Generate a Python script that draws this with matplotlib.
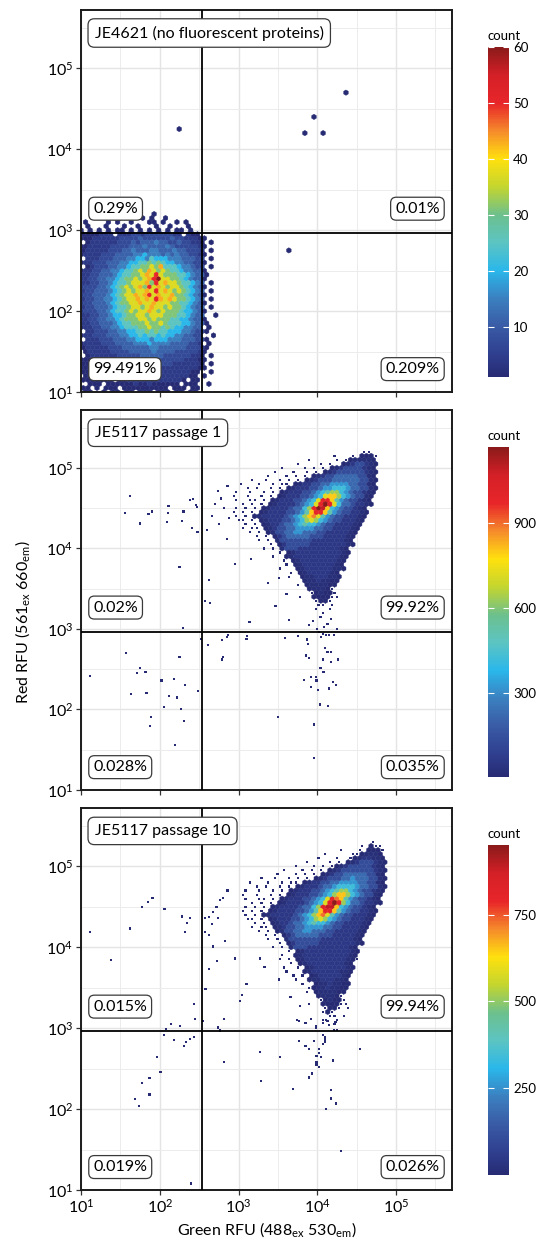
import numpy as np
import matplotlib.pyplot as plt
from matplotlib.colors import LinearSegmentedColormap
from matplotlib.ticker import FixedLocator, LogFormatterMathtext, NullFormatter

plt.rcParams['font.family'] = ['Lato', 'DejaVu Sans']
plt.rcParams['mathtext.fontset'] = 'custom'
plt.rcParams['mathtext.rm'] = 'Lato'
plt.rcParams['mathtext.it'] = 'Lato:italic'
plt.rcParams['mathtext.bf'] = 'Lato:bold'

titles = ['JE4621 (no fluorescent proteins)', 'JE5117 passage 1', 'JE5117 passage 10']
# upper-left, upper-right, lower-left, lower-right
quadrant_pct = [['0.29%', '0.01%', '99.491%', '0.209%'],
                ['0.02%', '99.92%', '0.028%', '0.035%'],
                ['0.015%', '99.94%', '0.019%', '0.026%']]
gate_green = 343
gate_red = 927
count_max = [60, 1170, 950]
cbar_ticks = [[10, 20, 30, 40, 50, 60], [300, 600, 900], [250, 500, 750]]

# hex lattice of the density maps, in log10 units
HEX_W = 0.058
HEX_H = 0.1
NX, NY = 84, 48

# one character per hex, '.' = empty; code -> count
codes = '123456789abcdefg'
counts_1 = [1, 4, 7, 11, 15, 20, 25, 31, 37, 43, 50, 60]
counts_2 = [1, 4, 20, 55, 130, 220, 320, 420, 520, 630, 720, 800, 880, 990, 1090, 1170]
counts_3 = [1, 4, 16, 45, 105, 180, 260, 340, 420, 510, 585, 655, 730, 810, 890, 950]

# JE4621, hex rows 44 (top) .. 0, first column = hex column 0
density_1 = [
    "..... ..... ..... .1... ..... .....",
    "..... ...1. ...1. 1..1. ..... .....",
    ".1... .1.1. .1... 11.1. .1.1. .....",
    ".1... 1...1 ..1.. .1..1 ...1. .....",
    "1.1.1 .1.11 .1.1. 1.1.1 .11.1 .....",
    "11112 22.22 23323 33333 22.21 1....",
    "11122 22223 33343 33333 43322 211..",
    ".1222 22233 34344 45443 34332 21.1.",
    "11222 22333 34445 44445 43333 321..",
    "12222 23334 45444 55444 54433 32.1.",
    "12222 33344 44556 55545 45443 321..",
    ".2223 33444 55665 76665 55444 33.1.",
    "12233 34445 56677 87876 65544 331..",
    ".1233 34455 67788 98a77 76554 33.1.",
    "12233 44556 77898 a9898 77655 441..",
    "22334 44567 7889a 9b988 87765 441..",
    "22334 45567 88989 abc99 88765 441..",
    "22334 45677 8999a 8b9a9 98776 54.1.",
    "23334 45678 989a8 b9a98 99876 541..",
    "23344 45678 9899a 9b9a9 89876 54.1.",
    "23344 45678 99a9a b9a99 a8876 541..",
    "23344 55678 99a9a 9ba9a 98876 54.1.",
    "23344 45678 899a9 9a999 88776 541..",
    "23344 45677 89989 a9989 88765 44.1.",
    "23334 45677 89899 a9898 88766 541..",
    "22334 45667 88998 99988 87765 44..1",
    "22334 45567 88899 89888 77665 441..",
    "22334 44567 78889 88987 77665 441..",
    "12233 44556 77788 98878 76655 44.1.",
    ".2233 34455 66778 78776 66554 331..",
    "12233 34445 56676 77676 65544 33..1",
    ".2223 33444 55666 56665 55444 331..",
    "12222 33344 44555 65555 44443 32.1.",
    "12222 23334 44444 55444 44433 321..",
    ".1222 22333 34444 45444 43333 321..",
    ".1222 22233 33344 44433 33332 21.1.",
    "11122 22223 33333 33333 33322 211..",
    "11.12 22222 23333 33333 22222 21.1.",
    "11111 22222 22323 32222 22222 211..",
    "11111 12222 22223 22222 22221 1..1.",
    ".1111 11122 22222 22222 22221 1.1..",
    "11111 11.11 22222 22222 221.1 1....",
    "..111 .1111 11211 21111 11.11 1..1.",
    "11.1. 111.1 11111 1111. 111.1 1....",
    ".11.. 1.11. 11.11 1.111 .11.1 1....",
]
top_1, left_1 = 44, 0
outlier_x_1 = [178, 21900, 8700, 7400, 11500, 4300]
outlier_y_1 = [18200, 50100, 26300, 16200, 16200, 550]

# JE5117 passage 1, hex rows 84 .. 44, first column = hex column 33
density_2 = [
    "..... ..... ..... ..... ..... ....1 1..",
    "..... ..... ..... ..... ..1.. .1.22 21.",
    "..... ..... ..... ..1.. ...1. 12333 32.",
    "..... ..... ....1 ....1 .1..2 34554 32.",
    "..... ..... .1... .1.1. 1.234 55554 32.",
    "..... ....1 ...1. .1.1. 23455 55554 32.",
    "..... ...1. ..1.1 .1.23 45566 66655 32.",
    "....1 ..1.. 1.1.1 .2345 55666 66655 32.",
    "..1.. .1..1 .11.2 34455 66777 76655 32.",
    "...1. 1..1. 1.234 44556 77888 76655 32.",
    ".1..1 ..1.1 .2344 45567 89aa8 76554 32.",
    "1..1. .1.1. 23444 55678 bcca8 76553 2..",
    ".1..1 1.1.2 34445 5678b eec97 65543 2..",
    "..1.1 .1.23 44445 678be geb86 65443 2..",
    ".1.1. 1.234 44456 68aeg fc876 55432 ...",
    "1.1.1 .2344 44556 79cee c9765 54432 ...",
    ".1.1. 23444 44567 8acdb 97655 44432 ...",
    ".11.1 .2344 45567 8aba8 76554 4432. ...",
    "...1. 1.234 45667 89887 65544 4432. ...",
    "..1.1 1.234 55667 77766 55444 432.. ...",
    "....1 .1.23 55667 76665 54444 432.. ...",
    "..... 1.1.2 45666 66555 44444 32... ...",
    "..... .1.1. 35555 55544 44444 32... ...",
    "..... ...1. 24555 55444 44444 32... ...",
    "..... ..1.1 .3555 44444 44443 2.... ...",
    "..... ..... 1.234 44444 44443 2.... ...",
    "..... ....1 ..234 44444 44443 2.... ...",
    "..... ..... .1.23 44444 44432 ..... ...",
    "..... ..... ..1.2 34444 44432 ..... ...",
    "..... ..... 1...2 34444 44332 ..... ...",
    "..... ..... ...1. 23444 4432. ..... ...",
    "..... ..... ..1.. 23344 4332. ..... ...",
    "..... ..... ..... .2334 3322. ..... ...",
    "..... ..... ....1 .2333 322.. ..... ...",
    "..... ..... ..... ..233 321.. ..... ...",
    "..... ..... ..... ..123 221.. ..... ...",
    "..... ..... ..... 1..22 2211. ..... ...",
    "..... ..... ..... ...12 21... ..... ...",
    "..... ..... ..... ....1 1.1.. ..... ...",
    "..... ..... ..... ...1. .1... ..... ...",
    "..... ..... ..... ..... 1.... ..... ...",
]
top_2, left_2 = 84, 33
outlier_x_2 = [42, 36, 56, 72, 79, 129, 126, 123, 191, 200, 240, 263, 288, 295, 257, 302, 178, 195,
               398, 550, 724, 372, 437, 427, 500, 603, 457, 661, 759, 562, 708,
               912, 1450, 2340, 1380, 4370, 2950, 4070, 3240,
               13, 37, 52, 56, 66, 43, 68, 78, 76, 105, 112, 132, 151, 166, 178, 209, 186, 204, 158, 309, 331,
               407, 617, 708, 617, 1260, 741, 1290, 3890, 5620, 7410, 7590, 7240, 7760, 6760, 8320, 9550,
               9770, 8320, 10200, 10700, 13800, 3160, 9120, 9120, 12600, 13500, 14800, 11700, 14800, 18200,
               11000, 12000, 15800, 17400, 14100, 631,
               10500, 11700, 12900, 11200, 14100, 16200, 10000, 12300, 13500, 8910, 15100, 11000, 7940, 17800]
outlier_y_2 = [44700, 27500, 20400, 26900, 28800, 33900, 27500, 21400, 21900, 28800, 39800, 40700, 34700, 32400,
               17800, 16200, 5900, 1020,
               17000, 51300, 60300, 2240, 2090, 4070, 35500, 41700, 25100, 31600, 24000, 20000, 13200,
               6460, 7410, 3720, 1230, 1290, 1910, 2750, 4270,
               263, 501, 282, 324, 295, 155, 162, 81, 63, 229, 107, 148, 240, 141, 447, 200, 102, 72, 36, 170, 759,
               631, 724, 794, 417, 759, 851, 813, 776, 813, 741, 646, 468, 437, 234, 251, 251,
               229, 191, 174, 115, 110, 81, 65, 25, 575, 513, 513, 417, 389, 417,
               331, 295, 219, 200, 182, 447,
               912, 871, 851, 794, 832, 851, 1000, 1050, 1150, 1260, 1320, 1410, 1120, 1000]

# JE5117 passage 10, hex rows 86 .. 41, first column = hex column 35
density_3 = [
    "..... ..... ..... ..... ..... ....1 ...",
    "..... ..... ..... ..... ..... .1.21 1..",
    "..... ..... ..... ..... ..1.. .1.22 21.",
    "..... ..... ..... ...1. ....1 12333 2..",
    "..... ..... ..... ..1.. .1..1 23443 32.",
    "..... ..... ....1 ....1 .1.23 45554 32.",
    "..... ..... ..1.. .1.1. 12345 55554 32.",
    "..... ....1 ...1. 1.1.2 34555 55554 32.",
    "..... ...1. ..1.1 .1.23 45566 66655 32.",
    "....1 ..1.. 1.1.1 .2345 55667 66655 32.",
    "..1.. .1..1 .11.2 34455 66777 76655 32.",
    "...1. 1..1. 1.234 44566 78888 76655 32.",
    ".1..1 ..1.1 .2344 45567 89aa8 76554 32.",
    "1..1. .1.1. 23444 55678 acca8 76553 2..",
    ".1..1 1.1.2 34445 5678b edc97 65543 2..",
    "..1.1 .1.23 44445 678be gea86 65443 2..",
    ".1.1. 1.234 44456 68aef fc876 55432 ...",
    "1.1.1 .2344 44556 79cee c9765 54432 ...",
    ".1.1. 23444 44567 8acdb 97655 44432 ...",
    ".11.1 .2344 45567 8aba8 76554 4432. ...",
    "...1. 1.234 45667 89887 65544 4432. ...",
    "..1.1 1.234 55667 77766 55444 432.. ...",
    "....1 .1.23 55667 76665 54444 432.. ...",
    "..... 1.1.2 45666 66555 44444 32... ...",
    "..... .1.1. 35555 55544 44444 32... ...",
    "..... ...1. 24555 55444 44444 32... ...",
    "..... ..1.1 .3555 44444 44443 2.... ...",
    "..... ..... 1.234 44444 44443 2.... ...",
    "..... ....1 ..234 44444 44443 2.... ...",
    "..... ...1. 1.234 44444 44432 1.... ...",
    "..... ..... .1.23 44444 44432 ..... ...",
    "..... ....1 ..1.2 34444 44432 ..... ...",
    "..... ..... 1...2 34444 44332 ..... ...",
    "..... ..... .1.1. 23444 4432. ..... ...",
    "..... ..... ..1.. 23344 4332. ..... ...",
    "..... ..... ...1. .2334 3322. ..... ...",
    "..... ..... ..... 12334 3322. ..... ...",
    "..... ..... ....1 .2333 322.. ..... ...",
    "..... ..... ..... ..233 321.. ..... ...",
    "..... ..... ..... ..123 221.. ..... ...",
    "..... ..... ..... 1..22 2211. ..... ...",
    "..... ..... ..... ...12 21... ..... ...",
    "..... ..... ..... ...12 1.... ..... ...",
    "..... ..... ..... ....1 1.1.. ..... ...",
    "..... ..... ..... ...1. .1... ..... ...",
    "..... ..... ..... ..... 1.... ..... ...",
]
top_3, left_3 = 86, 35
outlier_x_3 = [13, 24, 42, 59, 71, 81, 115, 191, 224, 209, 245, 275, 282, 138, 120, 182,
               112, 151, 204, 214, 240, 275, 93, 102, 74, 60, 74, 49, 55, 251,
               355, 372, 417, 479, 525, 575, 631, 724, 457, 372, 427, 479, 537, 427, 380, 550, 676, 646, 550,
               575, 646, 5890, 7080, 8320, 9550, 11700, 13500, 14100, 16200, 17800,
               11700, 12600, 12600, 12600, 11700, 10500, 5890, 7080, 7940, 9120, 1860, 3390, 9770, 10500,
               11200, 9770, 9770, 10500, 15800, 34700, 1910, 8510, 7760, 4900, 14800, 15100, 17400, 12900, 20000,
               1100, 1050, 1260, 2140, 1860, 912, 3240, 4570, 6030, 5500, 7240, 9550, 12900, 17000, 24500]
outlier_y_3 = [15500, 6900, 17000, 31600, 36300, 40700, 29500, 24000, 20000, 15500, 22900, 2000, 1290, 1120, 977, 1070,
               813, 708, 603, 676, 741, 776, 437, 288, 240, 209, 151, 132, 110, 12,
               1230, 22900, 23400, 27500, 31600, 38000, 40700, 50100, 19500, 15500, 14100, 10200, 6760, 5370, 3020,
               22900, 12000, 1290, 1020,
               933, 380, 1230, 1150, 1290, 1000, 1150, 1230, 1100, 955, 955,
               832, 776, 724, 676, 631, 550, 692, 603, 550, 692, 501, 437, 457, 490,
               437, 380, 355, 331, 398, 550, 224, 275, 245, 178, 170, 135, 117, 100, 30,
               2570, 2140, 3550, 5750, 7240, 7240, 3980, 2450, 1860, 1260, 1150, 1050, 1260, 1200, 1780]

cmap = LinearSegmentedColormap.from_list('flow', [
    (0.0, '#262b73'), (0.068, '#2f3f8f'), (0.153, '#3a5ba6'), (0.237, '#3b80c0'),
    (0.322, '#2ab7ea'), (0.407, '#5cc4c2'), (0.49, '#6cc08e'), (0.576, '#c3d52f'),
    (0.661, '#ffe10e'), (0.746, '#f58a2b'), (0.83, '#e8262a'), (0.915, '#d42027'),
    (1.0, '#8b1a1a')])


def hex_cells(rows, top, left, counts):
    xs, ys, cs = [], [], []
    for k, row in enumerate(rows):
        r = top - k
        for j, ch in enumerate(row.replace(' ', '')):
            if ch == '.':
                continue
            xs.append(10 ** (1 + (left + j + 0.5 * (r % 2)) * HEX_W))
            ys.append(10 ** (1 + r * HEX_H / 2))
            cs.append(counts[codes.index(ch)])
    return np.array(xs), np.array(ys), np.array(cs, dtype=float)


panels = [(density_1, top_1, left_1, counts_1, outlier_x_1, outlier_y_1),
          (density_2, top_2, left_2, counts_2, outlier_x_2, outlier_y_2),
          (density_3, top_3, left_3, counts_3, outlier_x_3, outlier_y_3)]

fig = plt.figure(figsize=(5.4, 12.45), dpi=100)
ax_rects = [[0.15, 0.6851, 0.687, 0.3068],
            [0.15, 0.3655, 0.687, 0.3052],
            [0.15, 0.0442, 0.687, 0.3068]]
cax_rects = [[0.9037, 0.6972, 0.0389, 0.2651],
             [0.9037, 0.3759, 0.0389, 0.2651],
             [0.9037, 0.0562, 0.0389, 0.2651]]
title_box = dict(boxstyle='round,pad=0.42,rounding_size=0.4', fc='white', ec='#3a3a3a', lw=0.9)
pct_box = dict(boxstyle='round,pad=0.28,rounding_size=0.35', fc='white', ec='#3a3a3a', lw=0.9)

for p, (rows, top, left, counts, ox, oy) in enumerate(panels):
    ax = fig.add_axes(ax_rects[p])
    x, y, c = hex_cells(rows, top, left, counts)
    ox = np.array(ox, dtype=float)
    oy = np.array(oy, dtype=float)
    if p == 0:
        hx, hy = np.concatenate([x, ox]), np.concatenate([y, oy])
        hc = np.concatenate([c, np.ones(len(ox))])
        dx = dy = None
    else:
        single = c == 1
        hx, hy, hc = x[~single], y[~single], c[~single]
        dx, dy = np.concatenate([x[single], ox]), np.concatenate([y[single], oy])
    hb = ax.hexbin(hx, hy, C=hc, reduce_C_function=np.sum, gridsize=(NX, NY),
                   extent=(1, 1 + NX * HEX_W, 1, 1 + NY * HEX_H), xscale='log', yscale='log',
                   cmap=cmap, vmin=1, vmax=count_max[p], linewidths=0.3, zorder=2)
    if dx is not None:
        ax.scatter(dx, dy, c=np.ones(len(dx)), cmap=cmap, vmin=1, vmax=count_max[p],
                   s=2.4, marker='s', linewidths=0, zorder=2)

    ax.set_xlim(10, 10 ** 5.71)
    ax.set_ylim(10, 10 ** 5.72)
    for axis in (ax.xaxis, ax.yaxis):
        axis.set_major_locator(FixedLocator(10.0 ** np.arange(1, 6)))
        axis.set_minor_locator(FixedLocator(10.0 ** (np.arange(1, 6) + 0.5)))
        axis.set_major_formatter(LogFormatterMathtext())
        axis.set_minor_formatter(NullFormatter())
    ax.set_axisbelow(True)
    ax.grid(which='major', color='#e4e4e4', lw=1.0)
    ax.grid(which='minor', color='#ececec', lw=0.7)
    ax.tick_params(which='minor', length=0)
    ax.tick_params(which='major', length=3.5, width=0.9, color='#333333', labelsize=11.5, pad=2)
    if p < 2:
        ax.tick_params(labelbottom=False)
    for s in ax.spines.values():
        s.set_linewidth(1.4)
        s.set_color('#1a1a1a')

    ax.axvline(gate_green, color='black', lw=1.3, zorder=3)
    ax.axhline(gate_red, color='black', lw=1.3, zorder=3)

    ax.text(0.037, 0.94, titles[p], transform=ax.transAxes, ha='left', va='center',
            fontsize=11.5, bbox=title_box, zorder=5)
    ul, ur, ll, lr = quadrant_pct[p]
    kw = dict(transform=ax.transAxes, va='center', fontsize=11.5, bbox=pct_box, zorder=5)
    ax.text(0.033, 0.48, ul, ha='left', **kw)
    ax.text(0.967, 0.48, ur, ha='right', **kw)
    ax.text(0.033, 0.06, ll, ha='left', **kw)
    ax.text(0.967, 0.06, lr, ha='right', **kw)

    cax = fig.add_axes(cax_rects[p])
    cb = fig.colorbar(hb, cax=cax, ticks=cbar_ticks[p])
    cb.outline.set_visible(False)
    cax.tick_params(length=4, width=0.8, color='white', direction='in', labelsize=9.5,
                    left=True, right=True, pad=3)
    cax.text(0.0, 1.015, 'count', transform=cax.transAxes, ha='left', va='bottom', fontsize=9.5)

fig.text(0.041, 0.5, r'Red RFU (561$_{\mathdefault{ex}}$ 660$_{\mathdefault{em}}$)',
         rotation=90, ha='center', va='center', fontsize=11.5)
fig.text(0.4935, 0.012, r'Green RFU (488$_{\mathdefault{ex}}$ 530$_{\mathdefault{em}}$)',
         ha='center', va='center', fontsize=11.5)

fig.savefig('out.png', dpi=100, facecolor='white')
